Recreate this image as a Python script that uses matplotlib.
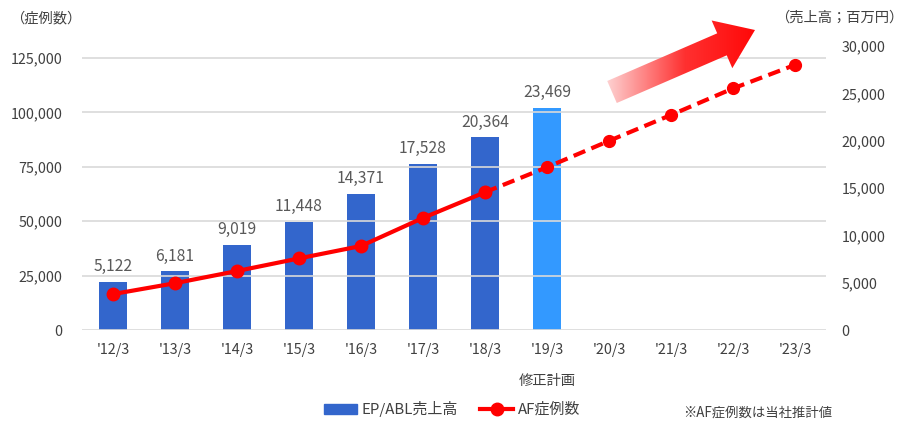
import matplotlib.pyplot as plt
import numpy as np
from matplotlib.patches import Polygon, Patch
from matplotlib.lines import Line2D
from matplotlib.colors import LinearSegmentedColormap

plt.rcParams["font.family"] = ["Noto Sans CJK JP", "DejaVu Sans"]

# data
years = ["'12/3", "'13/3", "'14/3", "'15/3", "'16/3", "'17/3",
         "'18/3", "'19/3", "'20/3", "'21/3", "'22/3", "'23/3"]
sales = [5122, 6181, 9019, 11448, 14371, 17528, 20364, 23469]
cases = [16500, 21500, 27100, 32900, 38600, 51500, 63300,
         74800, 86900, 98800, 111000, 121800]
actual_n = 7  # solid line up to '18/3

fig = plt.figure(figsize=(9.07, 4.23), dpi=100)
ax = fig.add_axes([82 / 907, 1 - 330 / 423, 744 / 907, 284 / 423])
ax2 = ax.twinx()

x = np.arange(len(years))
bar_colors = ["#3366cc"] * (len(sales) - 1) + ["#3399ff"]

ax2.bar(x[:len(sales)], sales, width=0.44, color=bar_colors, zorder=2)
for i, v in enumerate(sales):
    ax2.text(i, v + 700, f"{v:,}", ha="center", va="bottom",
             fontsize=11.3, color="#595959")

ax.set_zorder(ax2.get_zorder() + 1)
ax.patch.set_visible(False)
ax.plot(x[:actual_n], cases[:actual_n], color="#ff0000", lw=3,
        marker="o", ms=9, zorder=3)
ax.plot(x[actual_n - 1:], cases[actual_n - 1:], color="#ff0000", lw=3,
        ls=(0, (3, 1.6)), marker="o", ms=8.5, zorder=3)

ax.set_xlim(-0.5, 11.5)
ax.set_ylim(0, 130500)
ax2.set_ylim(0, 30000)
ax.set_yticks(range(0, 125001, 25000))
ax2.set_yticks(range(0, 30001, 5000))
ax.set_yticklabels([f"{v:,}" for v in range(0, 125001, 25000)])
ax2.set_yticklabels([f"{v:,}" for v in range(0, 30001, 5000)])
ax.set_xticks(x)
ax.set_xticklabels(years)

ax.grid(axis="y", color="#d9d9d9", lw=1.2)
ax.set_axisbelow(True)
for a in (ax, ax2):
    for s in a.spines.values():
        s.set_visible(False)
    a.tick_params(length=0, labelsize=10.3, labelcolor="#404040")
ax.tick_params(axis="y", pad=14)
ax2.tick_params(axis="y", pad=11)
ax.tick_params(axis="x", pad=9)

fig.text(10 / 907, 1 - 18 / 423, "（症例数）", fontsize=10.3, color="#404040",
         va="center", ha="left")
fig.text(903 / 907, 1 - 18 / 423, "（売上高；百万円）", fontsize=10.3, color="#404040",
         va="center", ha="right")
fig.text(547 / 907, 1 - 381 / 423, "修正計画", fontsize=10.3, color="#404040",
         va="center", ha="center")
fig.text(683 / 907, 1 - 413 / 423, "※AF症例数は当社推計値", fontsize=9.6,
         color="#404040", va="center", ha="left")

handles = [Patch(color="#3366cc", label="EP/ABL売上高"),
           Line2D([0], [0], color="#ff0000", lw=3, marker="o", ms=9,
                  label="AF症例数")]
fig.legend(handles=handles, loc="center", bbox_to_anchor=(452 / 907, 1 - 409 / 423),
           ncol=2, frameon=False, fontsize=10.8, handlelength=2.2,
           columnspacing=1.5, handletextpad=0.3, labelcolor="#404040")

# gradient arrow (decoration)
arr_ax = fig.add_axes([0, 0, 1, 1], zorder=5)
arr_ax.set_xlim(0, 907)
arr_ax.set_ylim(423, 0)
arr_ax.axis("off")
tail = np.array([612, 92])
tip = np.array([755, 30])
d = tip - tail
u = d / np.hypot(*d)
n = np.array([-u[1], u[0]])
hw, sw, hl = 26, 12, 36
base = tip - u * hl
pts = [tail + n * sw, base + n * sw, base + n * hw, tip,
       base - n * hw, base - n * sw, tail - n * sw]
poly = Polygon(pts, closed=True, facecolor="none", edgecolor="none")
arr_ax.add_patch(poly)
grad = np.linspace(0, 1, 256).reshape(1, -1)
cmap = LinearSegmentedColormap.from_list("g", ["#fde0e0", "#ff3030", "#ff0000"])
img = arr_ax.imshow(grad, cmap=cmap, extent=[600, 770, 110, 10], aspect="auto",
                    zorder=5)
img.set_clip_path(poly)

fig.savefig("out.png", dpi=100)
